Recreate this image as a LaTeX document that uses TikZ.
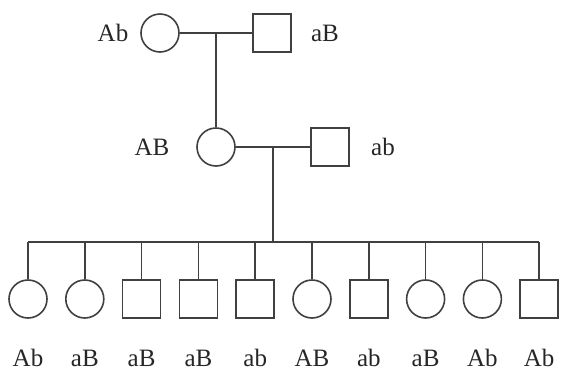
\documentclass[tikz,border=0pt]{standalone}
\usepackage{fontspec}
\setmainfont{Liberation Serif}
\begin{document}
\begin{tikzpicture}[x=1pt,y=-1pt,
  line width=1.6pt,
  lc/.style={draw=black!75},
  fem/.style={circle,draw=black!75,line width=1.6pt,minimum size=38pt,inner sep=0pt},
  mal/.style={rectangle,draw=black!75,line width=1.6pt,minimum size=38pt,inner sep=0pt},
  lab/.style={font=\fontsize{25}{28}\selectfont,text=black!85,inner sep=0pt}]
\useasboundingbox (0,0) rectangle (562,373);
% generation I
\node[fem] (g1f) at (160,33) {};
\node[mal] (g1m) at (272,33) {};
\node[lab] (l1f) at (113,33) {Ab};
\node[lab] (l1m) at (325,33) {aB};
\coordinate (m1) at (216,33);
% generation II
\node[fem] (g2f) at (216,147) {};
\node[mal] (g2m) at (330,147) {};
\node[lab] (l2f) at (152,147) {AB};
\node[lab] (l2m) at (383,147) {ab};
\coordinate (m2) at (273,147);
\coordinate (s2) at (273,242);
\draw[lc] (g1f) -- (g1m);
\draw[lc] (m1) -- (g2f.north);
\draw[lc] (g2f) -- (g2m);
\draw[lc] (m2) -- (s2);
% generation III
\foreach \i/\t/\g in {0/fem/Ab,1/fem/aB,2/mal/aB,3/mal/aB,4/mal/ab,5/fem/AB,6/mal/ab,7/fem/aB,8/fem/Ab,9/mal/Ab}{
  \pgfmathsetmacro{\xx}{28+56.8*\i}
  \coordinate (t\i) at (\xx,242);
  \node[\t] (c\i) at (\xx,299) {};
  \node[lab] (cl\i) at (\xx,358) {\g};
  \draw[lc] (t\i) -- (c\i.north);
}
\draw[lc] (t0) -- (t9);
\end{tikzpicture}
\end{document}
